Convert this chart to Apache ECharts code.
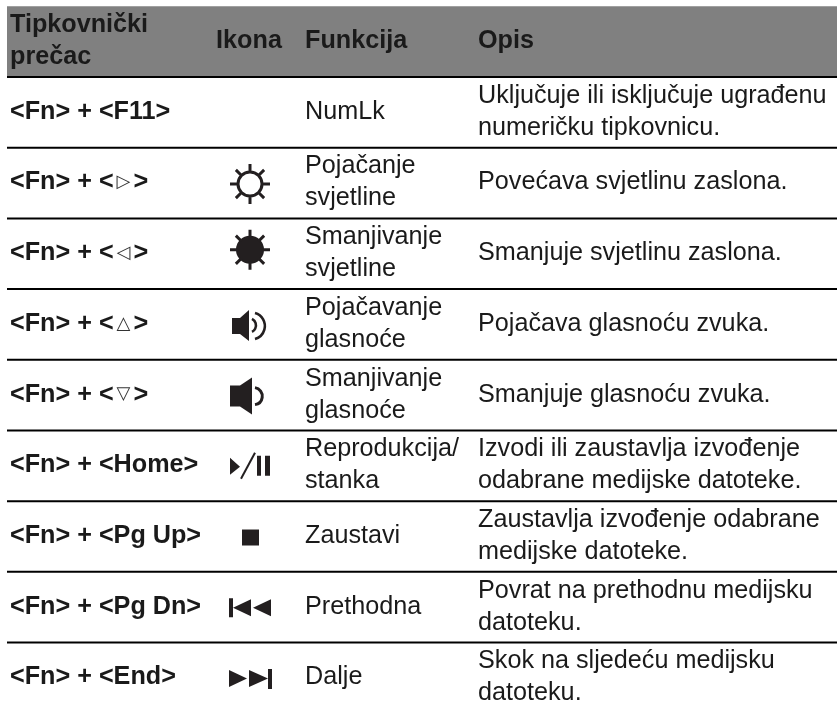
<!DOCTYPE html>
<html>
<head>
<meta charset="utf-8">
<style>
  html, body { margin: 0; padding: 0; background: #fff; }
  #main { width: 837px; height: 709px; }
</style>
<script src="https://cdn.jsdelivr.net/npm/echarts@6/dist/echarts.min.js"></script>
</head>
<body>
<div id="main"></div>
<script>
// table content, header first
const rowNames = ['head', 'f11', 'up', 'down', 'volup', 'voldown', 'home', 'pgup', 'pgdn', 'end']
const shortcuts = [
  'Tipkovnički\nprečac', '<Fn> + <F11>', '<Fn> + <{t|▷}>', '<Fn> + <{t|◁}>', '<Fn> + <{t|△}>',
  '<Fn> + <{t|▽}>', '<Fn> + <Home>', '<Fn> + <Pg Up>', '<Fn> + <Pg Dn>', '<Fn> + <End>',
]
const icons = ['', '', 'sunOpen', 'sunFull', 'speakerLoud', 'speakerQuiet', 'playPause', 'stop', 'prev', 'next']
const functions = [
  'Funkcija', 'NumLk', 'Pojačanje\nsvjetline', 'Smanjivanje\nsvjetline', 'Pojačavanje\nglasnoće',
  'Smanjivanje\nglasnoće', 'Reprodukcija/\nstanka', 'Zaustavi', 'Prethodna', 'Dalje',
]
const descriptions = [
  'Opis',
  'Uključuje ili isključuje ugrađenu\nnumeričku tipkovnicu.',
  'Povećava svjetlinu zaslona.',
  'Smanjuje svjetlinu zaslona.',
  'Pojačava glasnoću zvuka.',
  'Smanjuje glasnoću zvuka.',
  'Izvodi ili zaustavlja izvođenje\nodabrane medijske datoteke.',
  'Zaustavlja izvođenje odabrane\nmedijske datoteke.',
  'Povrat na prethodnu medijsku\ndatoteku.',
  'Skok na sljedeću medijsku\ndatoteku.',
]

const INK = '#231f20'
const TEXT_INK = '#1a1a1a'
const FONT = '"Liberation Sans", Arial, sans-serif'
const TABLE_LEFT = 7
const COL_KEY = 10
const COL_ICON = 249
const ICON_X = 250
const COL_FUNC = 305
const COL_DESC = 478

function sunRays(r0, r1) {
  let d = ''
  for (let i = 0; i < 8; i++) {
    const a = i * Math.PI / 4
    d += `M${r0 * Math.cos(a)} ${r0 * Math.sin(a)}L${r1 * Math.cos(a)} ${r1 * Math.sin(a)}`
  }
  return d
}
const circle = r => `M${-r} 0A${r} ${r} 0 1 1 ${r} 0A${r} ${r} 0 1 1 ${-r} 0Z`

// icon glyphs, local coordinates around the cell centre
const iconShapes = {
  sunOpen: { dy: 1, stroke: circle(12) + sunRays(12, 20), lw: 3 },
  sunFull: { dy: -4, fill: circle(14), stroke: sunRays(12, 20), lw: 3 },
  speakerLoud: {
    dy: 1.5,
    fill: 'M-18 -8H-10L-1 -16V15L-10 8H-18Z',
    stroke: 'M2 -7A7.3 7.3 0 0 1 2 6M5 -13A13.5 13.5 0 0 1 5 13',
    lw: 2.6,
  },
  speakerQuiet: {
    dy: 0.5,
    fill: 'M-20 -10H-10L2 -18V19L-10 11H-20Z',
    stroke: 'M5 -8A8.6 8.6 0 0 1 5 9',
    lw: 3,
  },
  playPause: {
    dy: 0,
    fill: 'M-20 -8L-10 1L-20 9ZM7 -10H11V10H7ZM15 -10H20V10H15Z',
    stroke: 'M5 -13L-9 13',
    lw: 2,
  },
  stop: { dy: 1, fill: 'M-8 -8H9V8H-8Z' },
  prev: { dy: 0, fill: 'M-21 -9H-17V10H-21ZM-17 0.5L1 -8V9ZM3 0.5L21 -8V9Z' },
  next: { dy: 0, fill: 'M-21 -8L-3 0.5L-21 9ZM-1 -8L18 0.5L-1 9ZM18 -9H22V11H18Z' },
}

function iconChildren(name, cx, cy) {
  const ic = iconShapes[name]
  if (!ic) return []
  const out = []
  if (ic.fill) {
    out.push({ type: 'path', x: cx, y: cy + ic.dy, shape: { pathData: ic.fill }, style: { fill: INK, stroke: null } })
  }
  if (ic.stroke) {
    out.push({ type: 'path', x: cx, y: cy + ic.dy, shape: { pathData: ic.stroke }, style: { fill: null, stroke: INK, lineWidth: ic.lw } })
  }
  return out
}

function cellText(text, x, y, bold, align) {
  return {
    type: 'text',
    x: x,
    y: y,
    style: {
      text: text,
      fill: TEXT_INK,
      fontFamily: FONT,
      fontSize: 25.2,
      fontWeight: bold ? 'bold' : 'normal',
      lineHeight: 32,
      align: align || 'left',
      verticalAlign: 'middle',
      rich: {
        t: { fontFamily: '"DejaVu Sans"', fontSize: 18, fontWeight: 'normal', fill: '#333', padding: [0, 3, 0, 3] },
      },
    },
  }
}

function renderRow(params, api) {
  const row = api.value(0)
  const left = api.coord([TABLE_LEFT, row])[0]
  const right = api.coord([837, row])[0]
  const top = api.coord([0, row])[1]
  const bottom = api.coord([0, row + 1])[1]
  const cy = (top + bottom) / 2
  const ty = cy - 0.5
  const head = row === 0
  const children = []
  if (head) {
    children.push({ type: 'rect', shape: { x: left, y: top, width: right - left, height: bottom - top }, style: { fill: '#808080' } })
  }
  if (row < rowNames.length - 1) {
    children.push({
      type: 'line',
      shape: { x1: left, y1: bottom, x2: right, y2: bottom },
      style: { stroke: '#000', lineWidth: 2 },
    })
  }
  children.push(cellText(shortcuts[row], api.coord([COL_KEY, row])[0], ty, true))
  if (head) {
    children.push(cellText('Ikona', api.coord([COL_ICON, row])[0], ty, true, 'center'))
  } else {
    children.push(...iconChildren(icons[row], api.coord([ICON_X, row])[0], cy))
  }
  children.push(cellText(functions[row], api.coord([COL_FUNC, row])[0], ty, head))
  children.push(cellText(descriptions[row], api.coord([COL_DESC, row])[0], ty, head))
  return { type: 'group', children: children }
}

const chart = echarts.init(document.getElementById('main'), null, { renderer: 'canvas' })
chart.setOption({
  animation: false,
  grid: { left: 0, top: 6.3, right: 0, bottom: 0 },
  xAxis: { type: 'value', min: 0, max: 837, show: false },
  // the last row runs a little past the bottom of the page
  yAxis: { type: 'value', inverse: true, min: 0, max: 9.94, show: false },
  series: [{
    type: 'custom',
    clip: false,
    silent: true,
    renderItem: renderRow,
    encode: { y: 0 },
    data: rowNames.map((n, i) => [i]),
  }],
})
</script>
</body>
</html>
